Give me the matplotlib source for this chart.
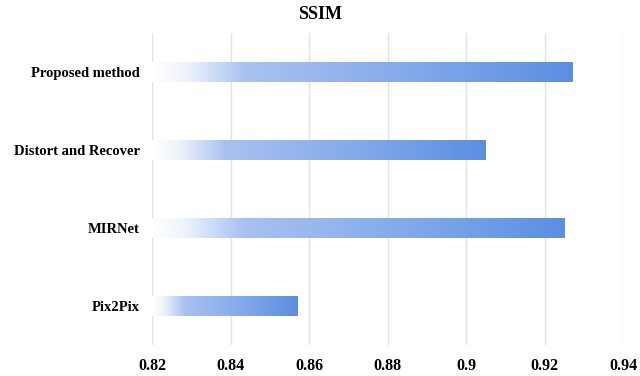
import numpy as np
import matplotlib.pyplot as plt
from matplotlib.colors import LinearSegmentedColormap

methods = ['Proposed method', 'Distort and Recover', 'MIRNet', 'Pix2Pix']
ssim = [0.927, 0.905, 0.925, 0.857]
xticks = [0.82, 0.84, 0.86, 0.88, 0.9, 0.92, 0.94]

plt.rcParams['font.family'] = ['Liberation Serif', 'DejaVu Serif']
plt.rcParams['font.weight'] = 'bold'

# white -> blue fade along each bar
fade = LinearSegmentedColormap.from_list('fade', [
    (0.0, '#ffffff'),
    (0.08, '#eef3fc'),
    (0.22, '#a8c2f0'),
    (0.55, '#8aaeeb'),
    (1.0, '#5b8fe2'),
])

fig = plt.figure(figsize=(6.4, 3.76), dpi=100)
ax = fig.add_axes([0.2375, 0.0824, 0.736, 0.8298])

x0 = xticks[0]
h = 0.245
grad = np.linspace(0, 1, 256).reshape(1, -1)
for i, v in enumerate(ssim):
    ax.imshow(grad, cmap=fade, aspect='auto', interpolation='bilinear',
              extent=(x0, v, i + h / 2, i - h / 2), zorder=2)

ax.set_xlim(x0, xticks[-1])
ax.set_ylim(len(methods) - 0.5, -0.5)
ax.set_xticks(xticks)
ax.set_xticklabels([f'{t:g}' for t in xticks], fontsize=11.5, fontweight='bold')
ax.set_yticks(range(len(methods)))
ax.set_yticklabels(methods, fontsize=10.5, fontweight='bold')
ax.tick_params(axis='x', length=0, pad=9)
ax.tick_params(axis='y', length=0, pad=9)
ax.grid(axis='x', color='#e2e2e2', linewidth=1, zorder=0)
ax.set_axisbelow(True)
for s in ax.spines.values():
    s.set_visible(False)

fig.text(0.5, 0.962, 'SSIM', ha='center', va='center', fontsize=13, fontweight='bold')

fig.savefig('out.png', dpi=100)
